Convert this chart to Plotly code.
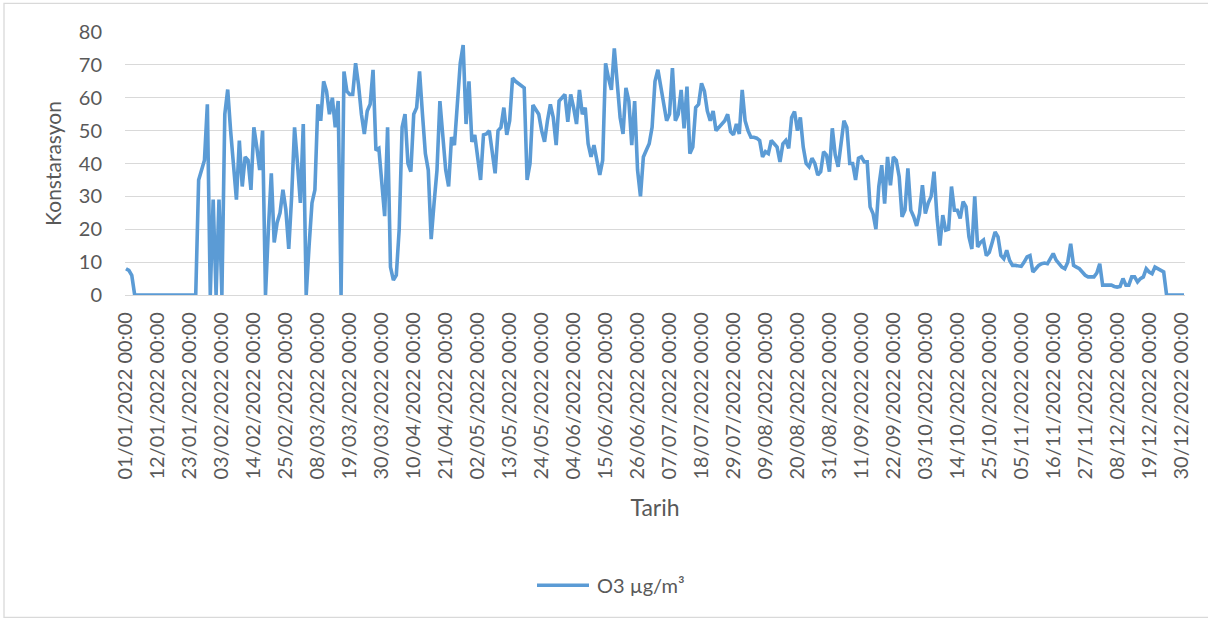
import pandas as pd
import plotly.graph_objects as go

# Daily O3 concentration (µg/m³), 2022
jan = [8, 7.5, 6] + [0] * 22 + [35, 38, 41, 58, 0, 29]
feb = [0, 29, 0, 55, 62.5, 50, 40, 29, 47, 33, 42, 41, 32, 51, 45, 38, 50, 0, 20, 37,
       16, 22, 25, 32, 26, 14, 30, 51]
mar = [40, 28, 52, 0, 15, 28, 32, 58, 53, 65, 62, 55, 60, 51, 59, 0, 68, 62, 61, 61,
       70.5, 64, 55, 49, 56, 58, 68.5, 44, 44.6, 33, 24]
apr = [51, 8.5, 4.5, 6, 20, 51, 55, 40, 37.5, 55, 57, 68, 55, 43, 38, 17, 28, 38, 59, 48,
       38, 33, 48, 45.6, 58, 70.5, 76, 52, 65, 46.6]
may = [48.7, 42, 35, 48.7, 49, 50, 44, 37, 50, 51, 57, 48.7, 53, 66, 65, 64.4, 63.5, 63, 35, 40,
       57.8, 56.5, 55, 50, 46.6, 53, 58, 54, 45.6, 59, 60]
jun = [61, 52.7, 61, 57, 52, 62.4, 55, 57, 46, 42, 45.6, 41, 36.5, 41, 70.5, 66, 62.4, 75, 64, 54,
       49, 63, 59, 45.6, 59, 38, 30, 42, 44, 46]
jul = [51, 65, 68.5, 63.4, 58, 53, 55, 69, 53, 55, 62.4, 50.7, 63.4, 43, 45, 57, 58, 64.4, 62, 56,
       53, 56, 50, 51, 52, 53, 55, 49.7, 48.7, 52, 49]
aug = [62.4, 53, 50, 48, 48, 47.7, 47, 42, 43.6, 43, 47, 46, 45, 40.5, 46, 47, 44.6, 54, 55.8, 50,
       54, 45, 40, 39, 41.6, 40, 36.5, 37.5, 43.6, 42.6, 37.5]
sep = [50.7, 42.6, 39, 46, 53, 51, 40, 40, 35, 41.6, 42, 40.5, 40.5, 26.8, 24.8, 20, 33, 39.5, 27.8, 42,
       33.4, 42, 41, 36, 23.8, 25.8, 38.5, 25.8, 23.8, 21]
oct_ = [24.8, 33.4, 24.8, 28, 30, 37.5, 23.8, 15, 24.3, 19.7, 20, 33, 25.8, 25.8, 23.3, 28.4, 26.8, 17.7, 14, 30,
        14.6, 16, 16.7, 12, 13, 16, 19.2, 17.7, 12, 11, 13.6]
nov = [10.5, 9, 9, 8.8, 8.7, 10, 11.6, 12, 7, 8, 9, 9.5, 9.7, 9.5, 11, 12.6, 10.6, 9.5, 8.5, 8,
       10, 15.6, 9, 8.5, 8, 7, 6, 5.5, 5.5, 5.5]
dec = [6.7, 9.5, 3, 3, 3, 3, 2.6, 2.4, 2.6, 5, 3, 3, 5.5, 5.5, 4, 5, 5.5, 8, 7, 6.5,
       8.5, 8, 7.5, 7, 0, 0, 0, 0, 0, 0, 0]

values = jan + feb + mar + apr + may + jun + jul + aug + sep + oct_ + nov + dec
dates = pd.date_range("2022-01-01", periods=len(values), freq="D")

series_name = "O3 µg/m³"
y_ticks = [0, 10, 20, 30, 40, 50, 60, 70, 80]

FONT = "Lato, 'Open Sans', sans-serif"
GRAY = "#595959"
GRID = "#d9d9d9"
BLUE = "#5B9BD5"

fig = go.Figure()
fig.add_trace(go.Scatter(
    x=dates, y=values, mode="lines", name=series_name, showlegend=False,
    line=dict(color=BLUE, width=3.6),
))

# plot area in pixels: x 125..1185, y 31.7..294.7
L, R, T, B = 125, 1185, 31.7, 294.7
W, H = 1208, 621
pw, ph = R - L, B - T


def px_x(px):
    return (px - L) / pw


def px_y(py):
    return (B - py) / ph


fig.update_layout(
    width=W, height=H,
    margin=dict(l=L, r=W - R, t=T, b=H - B, autoexpand=False),
    paper_bgcolor="white", plot_bgcolor="white",
    font=dict(family=FONT, color=GRAY, size=20),
    showlegend=False,
    xaxis=dict(
        type="date",
        range=["2021-12-31 16:00", "2022-12-31 08:00"],
        tick0="2022-01-01", dtick=11 * 86400000,
        tickformat="%d/%m/%Y %H:%M", tickangle=-90,
        showgrid=False, zeroline=False,
        showline=True, linecolor=GRID, linewidth=1.3,
        ticks="", ticklabelstandoff=8,
        tickfont=dict(size=20, color=GRAY),
        title=dict(text="Tarih", font=dict(size=23, color=GRAY), standoff=21),
    ),
    yaxis=dict(
        range=[0, 80], tickvals=y_ticks,
        showgrid=True, gridcolor=GRID, gridwidth=1.3,
        zeroline=False, showline=False, ticks="",
        ticklabelstandoff=22,
        tickfont=dict(size=20, color=GRAY),
        title=dict(text="Konstarasyon", font=dict(size=21, color=GRAY), standoff=11),
    ),
    shapes=[
        dict(type="rect", xref="paper", yref="paper",
             x0=px_x(4), x1=px_x(1212), y0=px_y(617), y1=px_y(3),
             line=dict(color=GRID, width=1.3), fillcolor="rgba(0,0,0,0)", layer="below"),
        # legend key
        dict(type="line", xref="paper", yref="paper",
             x0=px_x(537), x1=px_x(589), y0=px_y(585), y1=px_y(585),
             line=dict(color=BLUE, width=3.6)),
    ],
    annotations=[
        dict(text=series_name, xref="paper", yref="paper", x=px_x(595), y=px_y(585),
             xanchor="left", yanchor="middle", showarrow=False,
             font=dict(size=20, color=GRAY)),
    ],
)

fig.write_html("out.html", config={"displayModeBar": False},
               post_script="document.body.style.margin='0px';")
